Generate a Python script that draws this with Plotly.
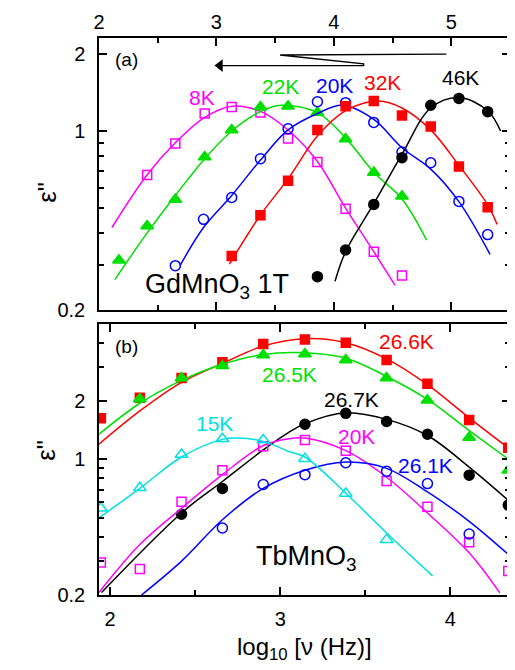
import numpy as np
import plotly.graph_objects as go

FONT = "Liberation Sans, Arial, sans-serif"

# ---------------- Panel (a): GdMnO3 1T ----------------
a_8K_x = [2.41, 2.65, 2.90, 3.13, 3.375, 3.61, 3.86, 4.10, 4.34, 4.58]
a_8K_y = [0.674, 0.893, 1.17, 1.24, 1.18, 0.934, 0.757, 0.497, 0.338, 0.273]
a_22K_x = [2.17, 2.41, 2.65, 2.90, 3.13, 3.375, 3.61, 3.86, 4.10, 4.34, 4.58]
a_22K_y = [0.313, 0.426, 0.540, 0.791, 1.01, 1.24, 1.25, 1.18, 0.93, 0.689, 0.556]
a_20K_x = [2.65, 2.89, 3.13, 3.375, 3.61, 3.86, 4.10, 4.34, 4.58, 4.825, 5.065, 5.31]
a_20K_y = [0.298, 0.452, 0.55, 0.78, 1.02, 1.30, 1.29, 1.08, 0.828, 0.752, 0.531, 0.394]
a_32K_x = [3.13, 3.375, 3.61, 3.86, 4.10, 4.34, 4.58, 4.825, 5.065, 5.31]
a_32K_y = [0.325, 0.469, 0.64, 1.01, 1.25, 1.31, 1.15, 1.04, 0.726, 0.504]
a_46K_x = [3.86, 4.10, 4.34, 4.58, 4.825, 5.065, 5.31]
a_46K_y = [0.27, 0.343, 0.517, 0.787, 1.26, 1.34, 1.19]

# fit curves (a)
fa_8K_x = [2.11, 2.41, 2.65, 2.90, 3.13, 3.38, 3.62, 3.86, 4.10, 4.34, 4.52]
fa_8K_y = [0.42, 0.675, 0.90, 1.13, 1.25, 1.19, 1.00, 0.76, 0.50, 0.338, 0.25]
fa_22K_x = [2.135, 2.41, 2.65, 2.90, 3.13, 3.375, 3.55, 3.86, 4.10, 4.34, 4.58, 4.79]
fa_22K_y = [0.263, 0.40, 0.56, 0.78, 1.00, 1.19, 1.26, 1.18, 0.94, 0.69, 0.543, 0.375]
fa_20K_x = [2.69, 2.89, 3.13, 3.375, 3.61, 3.86, 4.07, 4.34, 4.58, 4.825, 5.065, 5.33]
fa_20K_y = [0.298, 0.42, 0.56, 0.77, 1.01, 1.17, 1.26, 1.11, 0.86, 0.71, 0.53, 0.33]
fa_32K_x = [3.11, 3.375, 3.61, 3.86, 4.10, 4.38, 4.58, 4.825, 5.065, 5.31, 5.39]
fa_32K_y = [0.302, 0.47, 0.65, 0.955, 1.20, 1.31, 1.23, 1.01, 0.734, 0.515, 0.432]
fa_46K_x = [4.01, 4.10, 4.34, 4.58, 4.825, 5.065, 5.31, 5.42]
fa_46K_y = [0.259, 0.338, 0.52, 0.81, 1.23, 1.35, 1.20, 1.00]

# ---------------- Panel (b): TbMnO3 ----------------
b_266_x = [1.946, 2.175, 2.42, 2.66, 2.90, 3.145, 3.385, 3.625, 3.865, 4.11, 4.34]
b_266_y = [1.63, 2.08, 2.63, 3.17, 3.94, 4.16, 4.0, 3.26, 2.46, 1.60, 1.15]
b_265_x = [2.175, 2.42, 2.66, 2.90, 3.145, 3.385, 3.625, 3.865, 4.11, 4.34]
b_265_y = [2.05, 2.63, 3.04, 3.46, 3.50, 3.26, 2.63, 2.02, 1.30, 0.88]
b_267_x = [2.42, 2.66, 3.145, 3.385, 3.625, 3.865, 4.11, 4.34]
b_267_y = [0.522, 0.709, 1.52, 1.73, 1.57, 1.35, 0.83, 0.582]
b_20K_x = [1.946, 2.175, 2.42, 2.66, 2.90, 3.145, 3.385, 3.625, 3.865, 4.11, 4.34]
b_20K_y = [0.294, 0.272, 0.605, 0.879, 1.17, 1.26, 1.11, 0.775, 0.571, 0.374, 0.266]
b_261_x = [2.66, 2.90, 3.145, 3.385, 3.625, 3.865, 4.11]
b_261_y = [0.443, 0.743, 0.835, 0.962, 0.869, 0.751, 0.413]
b_15K_x = [1.946, 2.175, 2.42, 2.66, 2.90, 3.145, 3.385, 3.625]
b_15K_y = [0.56, 0.714, 1.06, 1.28, 1.26, 1.01, 0.668, 0.386]

# fit curves (b)
fb_266_x = [1.935, 2.175, 2.42, 2.66, 2.90, 3.145, 3.385, 3.625, 3.865, 4.11, 4.35]
fb_266_y = [1.20, 1.78, 2.50, 3.13, 3.85, 4.20, 4.00, 3.30, 2.43, 1.64, 1.13]
fb_265_x = [1.935, 2.175, 2.42, 2.66, 2.90, 3.10, 3.385, 3.625, 3.865, 4.11, 4.35]
fb_265_y = [1.35, 1.95, 2.56, 3.10, 3.48, 3.56, 3.33, 2.68, 2.04, 1.41, 0.99]
fb_267_x = [1.95, 2.42, 2.66, 2.90, 3.05, 3.145, 3.385, 3.625, 3.865, 4.11, 4.35]
fb_267_y = [0.206, 0.53, 0.77, 1.12, 1.38, 1.53, 1.74, 1.61, 1.33, 0.914, 0.605]
fb_20K_x = [1.935, 2.175, 2.42, 2.66, 2.90, 3.05, 3.145, 3.385, 3.625, 3.865, 4.11, 4.29]
fb_20K_y = [0.206, 0.364, 0.56, 0.835, 1.18, 1.28, 1.29, 1.11, 0.81, 0.53, 0.33, 0.205]
fb_261_x = [2.185, 2.42, 2.66, 2.90, 3.145, 3.385, 3.625, 3.865, 4.11, 4.35]
fb_261_y = [0.20, 0.299, 0.489, 0.709, 0.88, 0.97, 0.90, 0.68, 0.48, 0.318]
fb_15K_x = [1.935, 2.175, 2.42, 2.66, 2.75, 2.90, 3.05, 3.145, 3.385, 3.625, 3.895]
fb_15K_y = [0.50, 0.71, 1.03, 1.27, 1.29, 1.24, 1.10, 1.03, 0.67, 0.418, 0.251]

# tick labels
a_xticks = [2, 3, 4, 5]
b_xticks = [2, 3, 4]
y_ticks = [0.2, 1, 2]
y_ticktext = ["0.2", "1", "2"]

MAG, GRN, BLU, RED, BLK, CYN = "#FF00FF", "#00E000", "#0000FF", "#FF0000", "#000000", "#00E0E0"

fig = go.Figure()

def add(xs, ys, fx, fy, color, symbol, size, xa, ya):
    fig.add_trace(go.Scatter(x=fx, y=fy, mode="lines", line=dict(color=color, width=1.5, shape="spline"),
                             xaxis=xa, yaxis=ya, hoverinfo="skip"))
    fig.add_trace(go.Scatter(x=xs, y=ys, mode="markers", xaxis=xa, yaxis=ya,
                             marker=dict(symbol=symbol, size=size, color=color,
                                         line=dict(color=color, width=1.5))))

add(a_8K_x, a_8K_y, fa_8K_x, fa_8K_y, MAG, "square-open", 9, "x", "y")
add(a_22K_x, a_22K_y, fa_22K_x, fa_22K_y, GRN, "triangle-up", 11, "x", "y")
add(a_20K_x, a_20K_y, fa_20K_x, fa_20K_y, BLU, "circle-open", 10, "x", "y")
add(a_32K_x, a_32K_y, fa_32K_x, fa_32K_y, RED, "square", 9, "x", "y")
add(a_46K_x, a_46K_y, fa_46K_x, fa_46K_y, BLK, "circle", 10, "x", "y")

add(b_266_x, b_266_y, fb_266_x, fb_266_y, RED, "square", 9, "x2", "y2")
add(b_265_x, b_265_y, fb_265_x, fb_265_y, GRN, "triangle-up", 11, "x2", "y2")
add(b_267_x, b_267_y, fb_267_x, fb_267_y, BLK, "circle", 10, "x2", "y2")
add(b_20K_x, b_20K_y, fb_20K_x, fb_20K_y, MAG, "square-open", 9, "x2", "y2")
add(b_261_x, b_261_y, fb_261_x, fb_261_y, BLU, "circle-open", 10, "x2", "y2")
add(b_15K_x, b_15K_y, fb_15K_x, fb_15K_y, CYN, "triangle-up-open", 11, "x2", "y2")

# field-sweep zigzag arrow in panel (a)
zig_x = [4.958, 3.542, 4.254, 4.254, 3.03]
zig_y = [1.995, 1.98, 1.83, 1.80, 1.80]
fig.add_trace(go.Scatter(x=zig_x, y=zig_y, mode="lines", line=dict(color="black", width=1.3),
                         xaxis="x", yaxis="y", hoverinfo="skip"))
fig.add_trace(go.Scatter(x=[3.03], y=[1.80], mode="markers", xaxis="x", yaxis="y", hoverinfo="skip",
                         marker=dict(symbol="triangle-left", size=11, color="black",
                                     line=dict(width=0))))

common = dict(showline=True, linecolor="black", linewidth=1.5, mirror="allticks",
              ticks="inside", ticklen=8, tickwidth=1.5, tickcolor="black",
              showgrid=False, zeroline=False,
              tickfont=dict(size=20, family=FONT, color="black"))
minor = dict(ticks="inside", ticklen=5, tickwidth=1.5, tickcolor="black", showgrid=False)

# the page body adds an 8 px offset, so the figure is drawn 8 px smaller on left/top
fig.update_layout(
    width=507, height=662, margin=dict(l=91, r=3, t=26, b=75),
    plot_bgcolor="white", paper_bgcolor="white", showlegend=False,
    font=dict(family=FONT, size=20, color="black"),
    xaxis=dict(domain=[0, 1], anchor="y", side="top", range=[2, 5.5], ticklabelstandoff=-1,
               tickvals=a_xticks, minor=dict(minor, tickvals=[2.5, 3.5, 4.5]), **common),
    yaxis=dict(domain=[0.5116, 1], anchor="x", type="log", range=[np.log10(0.2), 0.363],
               tickvals=y_ticks, ticktext=y_ticktext, ticklabelstandoff=8,
               minor=dict(minor, tickvals=[0.3, 0.4, 0.5, 0.6, 0.7, 0.8, 0.9]), **common),
    xaxis2=dict(domain=[0, 1], anchor="y2", range=[1.935, 4.35], ticklabelstandoff=5,
                tickvals=b_xticks, minor=dict(minor, tickvals=[2.5, 3.5]), **common),
    yaxis2=dict(domain=[0, 0.4866], anchor="x2", type="log", range=[np.log10(0.2), np.log10(5)],
                tickvals=y_ticks, ticktext=y_ticktext, ticklabelstandoff=8,
                minor=dict(minor, tickvals=[0.3, 0.4, 0.5, 0.6, 0.7, 0.8, 0.9, 3, 4]), **common),
)

def lab(text, x, y, color, xa="x", ya="y", size=21, xanchor="center"):
    fig.add_annotation(text=text, x=x, y=np.log10(y), xref=xa, yref=ya, showarrow=False,
                       font=dict(size=size, color=color, family=FONT), xanchor=xanchor, yanchor="middle")

lab("(a)", 2.237, 1.90, "black", size=19)
lab("8K", 2.873, 1.356, MAG)
lab("22K", 3.542, 1.493, GRN)
lab("20K", 4.008, 1.507, BLU)
lab("32K", 4.415, 1.549, RED)
lab("46K", 5.076, 1.618, BLK)
lab("GdMnO<sub>3</sub> 1T", 2.373, 0.248, "black", size=27, xanchor="left")

lab("(b)", 2.099, 3.81, "black", "x2", "y2", size=19)
lab("26.6K", 3.739, 4.05, RED, "x2", "y2")
lab("26.5K", 3.052, 2.75, GRN, "x2", "y2")
lab("26.7K", 3.417, 2.04, BLK, "x2", "y2")
lab("20K", 3.449, 1.31, MAG, "x2", "y2")
lab("26.1K", 3.856, 0.93, BLU, "x2", "y2")
lab("15K", 2.613, 1.53, CYN, "x2", "y2")
lab("TbMnO<sub>3</sub>", 2.847, 0.31, "black", "x2", "y2", size=27, xanchor="left")

# axis titles
fig.add_annotation(text='ε"', xref="paper", yref="paper", x=-0.1695, y=0.745, textangle=-90,
                   showarrow=False, font=dict(size=26, family=FONT, color="black"))
fig.add_annotation(text='ε"', xref="paper", yref="paper", x=-0.1695, y=0.237, textangle=-90,
                   showarrow=False, font=dict(size=26, family=FONT, color="black"))
fig.add_annotation(text="log<sub>10</sub> [ν (Hz)]", xref="paper", yref="paper", x=0.499, y=-0.128,
                   showarrow=False, font=dict(size=24, family=FONT, color="black"))

fig.write_html("out.html")
